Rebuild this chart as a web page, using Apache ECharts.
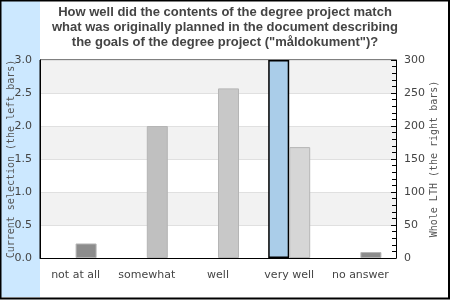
<!DOCTYPE html>
<html><head><meta charset="utf-8">
<script src="https://cdn.jsdelivr.net/npm/echarts@6/dist/echarts.min.js"></script>
<style>html,body{margin:0;padding:0;background:#fff}#c{width:450px;height:300px}</style>
</head><body><div id="c"></div>
<script>
const categories = ['not at all', 'somewhat', 'well', 'very well', 'no answer'];
const currentSelection = [null, null, null, 3.0, null];
const wholeLTH = [22, 200, 257, 168, 9];
const leftTicks = [0, 0.5, 1.0, 1.5, 2.0, 2.5, 3.0];
const rightTicks = [0, 50, 100, 150, 200, 250, 300];
const titleText = 'How well did the contents of the degree project match\nwhat was originally planned in the document describing\nthe goals of the degree project ("måldokument")?';
const wholeColors = ['#8c8c8c', '#c0c0c0', '#c8c8c8', '#d6d6d6', '#8c8c8c'];

const chart = echarts.init(document.getElementById('c'), null, {renderer: 'canvas'});
chart.setOption({
  animation: false,
  backgroundColor: '#fff',
  graphic: [
    {type: 'rect', z: -10, shape: {x: 1, y: 1, width: 39, height: 296}, style: {fill: '#cce8ff'}},
    {type: 'rect', z: 100, shape: {x: 0.5, y: 0.5, width: 448.5, height: 298}, style: {fill: 'none', stroke: '#000', lineWidth: 2}}
  ],
  title: {
    text: titleText, left: 'center', top: 0,
    textStyle: {fontFamily: 'Liberation Sans, Arial', fontWeight: 'bold', fontSize: 13, lineHeight: 15, color: '#444'}
  },
  grid: {left: 40, right: 54, top: 60, bottom: 42, containLabel: false, outerBoundsMode: 'none',
    show: true, borderColor: '#000', borderWidth: 1, backgroundColor: 'transparent'},
  xAxis: {
    type: 'category', data: categories,
    axisLine: {lineStyle: {color: '#000'}}, axisTick: {show: false},
    axisLabel: {fontFamily: 'DejaVu Sans', fontSize: 11, color: '#444', margin: 12, interval: 0,
      formatter: v => v === 'no answer' ? '{up|' + v + '}' : v,
      rich: {up: {fontFamily: 'DejaVu Sans', fontSize: 11, color: '#444', padding: [0, 0, 6, 0]}}}
  },
  yAxis: [
    {
      type: 'value', min: leftTicks[0], max: leftTicks[leftTicks.length - 1], interval: 0.5,
      name: 'Current selection (the left bars)', nameLocation: 'middle', nameGap: 24, nameRotate: 90,
      nameMoveOverlap: false,
      nameTextStyle: {fontFamily: 'DejaVu Sans Mono', fontSize: 10, color: '#555'},
      axisLine: {show: true, lineStyle: {color: '#000'}}, axisTick: {show: false},
      axisLabel: {fontFamily: 'DejaVu Sans', fontSize: 11, color: '#444', margin: 8, formatter: v => v.toFixed(1)},
      splitLine: {show: true, lineStyle: {color: '#e0e0e0'}},
      splitArea: {show: true, areaStyle: {color: ['#ffffff', '#f2f2f2']}}
    },
    {
      type: 'value', position: 'right', min: rightTicks[0], max: rightTicks[rightTicks.length - 1], interval: 50,
      name: 'Whole LTH (the right bars)', nameLocation: 'middle', nameGap: 33, nameRotate: 90,
      nameMoveOverlap: false,
      nameTextStyle: {fontFamily: 'DejaVu Sans Mono', fontSize: 10, color: '#555'},
      axisLine: {show: true, onZero: false, lineStyle: {color: '#000'}},
      axisTick: {show: false},
      axisLabel: {fontFamily: 'DejaVu Sans', fontSize: 11, color: '#444', margin: 8},
      splitLine: {show: false}
    },
    {
      type: 'value', position: 'left', offset: -356, min: rightTicks[0], max: rightTicks[rightTicks.length - 1], interval: 50,
      axisLine: {show: false, onZero: false},
      axisTick: {show: true, inside: false, length: 5, lineStyle: {color: '#000', width: 1}},
      minorTick: {show: true, splitNumber: 5, length: 4, lineStyle: {color: '#000', width: 1}},
      axisLabel: {show: false},
      splitLine: {show: false}, splitArea: {show: false}
    }
  ],
  series: [
    {
      type: 'bar', yAxisIndex: 0, data: currentSelection, barWidth: 21, barGap: '0%',
      itemStyle: {color: '#aacde9', borderColor: '#000', borderWidth: 1.5}
    },
    {
      type: 'bar', yAxisIndex: 1, barWidth: 21, barGap: '0%',
      data: wholeLTH.map((v, i) => ({value: v, itemStyle: {color: wholeColors[i]}})),
      itemStyle: {borderColor: '#b5b5b5', borderWidth: 1}
    }
  ]
});
</script></body></html>
